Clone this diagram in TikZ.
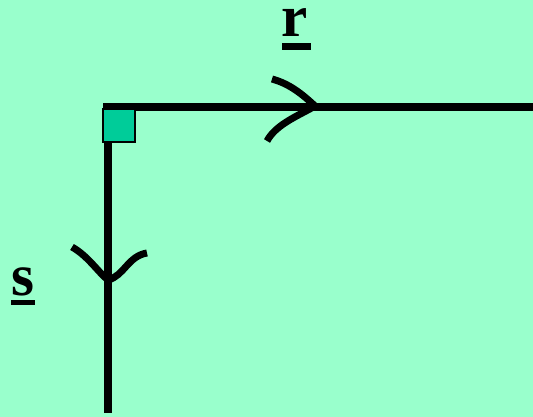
\documentclass[tikz,border=0pt]{standalone}
\usepackage{fontspec}
\setmainfont{Liberation Serif}
\usetikzlibrary{positioning}
\usetikzlibrary{calc}

\definecolor{bggreen}{RGB}{153,255,204}
\definecolor{boxgreen}{RGB}{0,204,153}

\begin{document}
\begin{tikzpicture}[x=1pt, y=-1pt,
    axisline/.style={line width=8pt, black},
    chevron/.style={line width=7pt, black},
    rightangle/.style={draw=black, line width=1.2pt, fill=boxgreen},
    veclabel/.style={inner sep=0pt, anchor=base, text height=27pt, text depth=0pt,
                     font=\fontsize{59}{59}\selectfont\bfseries}]
        % Background and picture size
        \fill[bggreen] (0,0) rectangle (533,417);
        \useasboundingbox (0,0) rectangle (533,417);

        % Corner and the ends of the two lines
        \coordinate (o) at (108,107);
        \coordinate (rend) at (533,107);
        \coordinate (send) at (108,413);

        \draw[axisline] ($(o)+(-5,0)$) -- (rend);
        \draw[axisline] (o) -- (send);

        % Right angle box
        \draw[rightangle] (103,109) rectangle (135,142);

        % Arrow on r
        \coordinate (rtip) at (315,106);
        \draw[chevron] (272,79) .. controls (290,84) and (302,94) .. (rtip)
                       .. controls (300,115) and (276,124) .. (267,141);

        % Arrow on s
        \coordinate (stip) at (108,280);
        \draw[chevron] (72,247) .. controls (88,256) and (98,272) .. (stip)
                       .. controls (124,276) and (128,256) .. (147,253);

        % Labels
        \node[veclabel] (rlab) at (295,37) {r};
        \node[veclabel] (slab) at (23,295) {s};
        \fill ($(rlab.base)+(-13,6)$) rectangle ($(rlab.base)+(16,13)$);
        \fill ($(slab.base)+(-12,5)$) rectangle ($(slab.base)+(12,10)$);
      \end{tikzpicture}
\end{document}
